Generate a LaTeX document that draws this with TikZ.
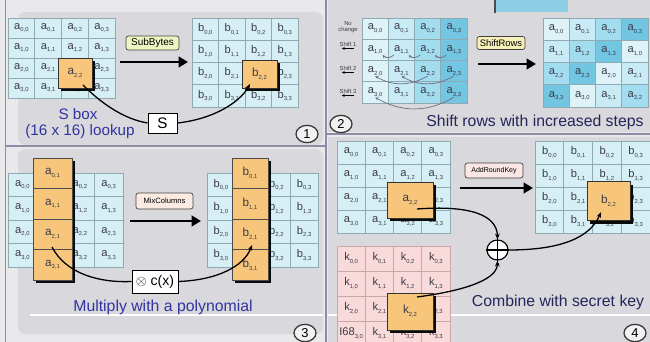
\documentclass[tikz,border=0pt]{standalone}
\usepackage{fontspec}
\setmainfont{Liberation Sans}
\usetikzlibrary{arrows.meta,shapes.geometric,shadows}

\definecolor{canvas}{HTML}{E9E9EC}
\definecolor{panel}{HTML}{D9D9DD}
\definecolor{divider}{HTML}{8C8CA6}
\definecolor{cellfill}{HTML}{D6EFF5}
\definecolor{cellline}{HTML}{8FAAB2}
\definecolor{celltxt}{HTML}{3A3A48}
\definecolor{hlorange}{HTML}{F7C67A}
\definecolor{sh0}{HTML}{DDF3F8}
\definecolor{sh1}{HTML}{C9EBF5}
\definecolor{sh2}{HTML}{A2DDEF}
\definecolor{sh3}{HTML}{72C6E2}
\definecolor{subfill}{HTML}{EEF5C2}
\definecolor{shiftfill}{HTML}{F7F0B8}
\definecolor{mixfill}{HTML}{FBEAE2}
\definecolor{keyfill}{HTML}{F8DADA}
\definecolor{keyline}{HTML}{C9A7A7}
\definecolor{addfill}{HTML}{FBE6E6}
\definecolor{titleblue}{HTML}{3333A0}
\definecolor{titlenavy}{HTML}{25255A}
\definecolor{numline}{HTML}{3A3A3A}
\definecolor{numfill}{HTML}{F2F2F2}
\definecolor{arcgray}{HTML}{6E6E80}
\definecolor{topblue}{HTML}{8FCFE6}

\newcommand{\cellsub}[1]{\raisebox{-0.45ex}{\fontsize{5}{5}\selectfont#1}}
\newcommand{\keyletter}{\ifnum\ri\ci=30 I68\else k\fi}
% 4x4 state grid: name, x0, y0, cell width, cell height, letter, style,
% column left without text (9 = none), cell left without text (99 = none)
\newcommand{\stategrid}[9]{%
  \foreach \ri in {0,...,3} {
    \foreach \ci in {0,...,3} {
      \draw[#7] ({#2+\ci*#4},{#3+\ri*#5}) rectangle ++(#4,#5);
      \pgfmathtruncatemacro{\cellid}{\ri*10+\ci}
      \ifnum\ci=#8\relax\else\ifnum\cellid=#9\relax\else
        \node[celltext] (#1\ri\ci) at ({#2+(\ci+0.5)*#4},{#3+(\ri+0.5)*#5}) {#6\cellsub{\ri,\ci}};
      \fi\fi
    }
  }
}

\tikzset{
  cellbox/.style={draw=cellline,fill=cellfill,line width=0.5pt},
  keybox/.style={draw=keyline,fill=keyfill,line width=0.5pt},
  celltext/.style={font=\fontsize{9.5}{10}\selectfont,text=celltxt,inner sep=0pt},
  hlbox/.style={draw=black!80,fill=hlorange,line width=0.6pt,inner sep=0pt,
    font=\fontsize{10}{11}\selectfont,text=celltxt,
    drop shadow={shadow xshift=2.6pt,shadow yshift=-2.6pt,fill=black,opacity=.95}},
  colcell/.style={draw=black!70,line width=0.5pt,inner sep=0pt,minimum height=0.915cm,
    font=\fontsize{10}{11}\selectfont,text=celltxt},
  opbox/.style={draw=black!75,rounded corners=2pt,line width=0.6pt,inner sep=1pt},
  stagearrow/.style={line width=2pt,-{Triangle[length=8pt,width=9pt]}},
  curvelink/.style={line width=1.1pt},
  curvearrow/.style={line width=1.1pt,-{Stealth[length=5pt,width=4pt]}},
  shiftlink/.style={draw=arcgray,line width=0.6pt,-{Stealth[length=3pt,width=2.5pt]}},
  shiftlbl/.style={font=\fontsize{5}{5.5}\selectfont,text=celltxt,inner sep=0pt,align=center},
  shiftmark/.style={line width=0.9pt,-{Stealth[length=2.5pt,width=2.5pt]}},
  stepnum/.style={ellipse,draw=numline,line width=1.1pt,fill=numfill,minimum width=0.66cm,
    minimum height=0.52cm,inner sep=0pt,font=\fontsize{11}{12}\selectfont},
  steptitle/.style={font=\fontsize{13.5}{15}\selectfont,inner sep=0pt},
}

\begin{document}
\begin{tikzpicture}[x=0.03cm,y=-0.03cm]
\clip (0,0) rectangle (650,342);
% background panels
\fill[canvas] (0,0) rectangle (650,342);
\fill[panel,rounded corners=6pt] (18,12) rectangle (323,145);
\fill[panel] (328,-5) rectangle (655,132);
\fill[panel,rounded corners=6pt] (18,149) rectangle (323,334);
\fill[panel] (328,137) rectangle (655,347);
\draw[white,line width=1pt] (30,315) -- (323,315);
\draw[white,line width=1pt] (328,315) -- (650,315);
\draw[divider,line width=0.8pt] (5,0) -- (5,342);
\draw[divider,line width=1pt] (5,146) -- (326,146);
\draw[divider,line width=1.2pt] (326,0) -- (326,342);
\draw[divider,line width=1pt] (326,134) -- (650,134);
\fill[topblue] (495,0) rectangle (568,12);
\draw[black!70,line width=1pt] (495,0) -- (495,13);

% 1: SubBytes
\stategrid{qa}{8}{18}{26.75}{20}{a}{cellbox}{9}{22}
\stategrid{qb}{192}{18}{26.5}{22.25}{b}{cellbox}{9}{22}
\node[hlbox,minimum width=1.02cm,minimum height=0.9cm] (hlA) at (75,73) {a\cellsub{2,2}};
\node[hlbox,minimum width=1.05cm,minimum height=0.84cm] (hlB) at (259.5,74) {b\cellsub{2,2}};
\node[opbox,fill=subfill,minimum width=1.59cm,minimum height=0.42cm,font=\fontsize{8.5}{9}\selectfont] (subbytes) at (152.5,43) {SubBytes};
\coordinate (subin) at (120,62);
\coordinate (subout) at (188,62);
\draw[stagearrow] (subin) -- (subout);
\node[draw=black,fill=white,line width=0.8pt,minimum width=0.87cm,minimum height=0.6cm,inner sep=0pt,font=\fontsize{13}{14}\selectfont] (sbox) at (162.5,123) {S};
\coordinate (sfrom) at (83,85);
\coordinate (sto) at (250,84);
\draw[curvelink] (sfrom) .. controls (102,104) and (124,119) .. (sbox.west);
\draw[curvearrow] (sbox.east) .. controls (214,119) and (240,102) .. (sto);
\node[steptitle,text=titleblue,font=\fontsize{13}{14}\selectfont] (sboxtxt) at (78,114) {S box};
\node[steptitle,text=titleblue,font=\fontsize{13}{14}\selectfont] (lookup) at (80,131.5) {(16 x 16) lookup};
\node[stepnum] (num1) at (307,134) {1};

% 2: ShiftRows
\node[shiftlbl] (nochange) at (348,27) {No\\change};
\node[shiftlbl] (shift1) at (348,44) {Shift 1};
\node[shiftlbl] (shift2) at (348,68) {Shift 2};
\node[shiftlbl] (shift3) at (348,91) {Shift 3};
\foreach \ri in {1,2,3}
  \draw[shiftmark] ([xshift=-2pt,yshift=-1.8pt]shift\ri.south east) -- ([xshift=2pt,yshift=-1.8pt]shift\ri.south west);
\foreach \ri in {0,...,3} {
  \foreach \ci in {0,...,3} {
    \draw[draw=cellline,fill=sh\ci,line width=0.5pt] ({362+\ci*26.25},{18+\ri*21.25}) rectangle ++(26.25,21.25);
    \node[celltext] (qs\ri\ci) at ({362+(\ci+0.5)*26.25},{18+(\ri+0.5)*21.25}) {a\cellsub{\ri,\ci}};
  }
}
\draw[shiftlink] (qs11.south west) to[bend left=50] (qs10.south east);
\draw[shiftlink] (qs12.south west) to[bend left=50] (qs11.south east);
\draw[shiftlink] (qs13.south west) to[bend left=50] (qs12.south east);
\draw[shiftlink] (qs22.south) to[bend left=30] (qs20.south);
\draw[shiftlink] (qs23.south) to[bend left=30] (qs21.south);
\draw[shiftlink] (qs33.south) to[bend left=30] (qs30.south);
\foreach \ri in {0,...,3} {
  \foreach \ci in {0,...,3} {
    \pgfmathtruncatemacro{\kk}{mod(\ci+\ri,4)}
    \draw[draw=cellline,fill=sh\kk,line width=0.5pt] ({543+\ci*26.25},{18+\ri*22.25}) rectangle ++(26.25,22.25);
    \node[celltext] (qr\ri\ci) at ({543+(\ci+0.5)*26.25},{18+(\ri+0.5)*22.25}) {a\cellsub{\ri,\kk}};
  }
}
\node[opbox,fill=shiftfill,minimum width=1.44cm,minimum height=0.39cm,font=\fontsize{8}{9}\selectfont] (shiftrows) at (501,43) {ShiftRows};
\coordinate (shin) at (478,64);
\coordinate (shout) at (536,64);
\draw[stagearrow] (shin) -- (shout);
\node[steptitle,text=titlenavy] (shifttxt) at (535,122) {Shift rows with increased steps};
\node[stepnum] (num2) at (341,124) {2};

% 3: MixColumns
\stategrid{ma}{8}{173}{28.75}{23.5}{a}{cellbox}{1}{99}
\stategrid{mb}{207}{173}{27.75}{23.5}{b}{cellbox}{1}{99}
\node[hlbox,minimum width=1.17cm,minimum height=3.66cm] (colA) at (52.5,219) {};
\node[hlbox,minimum width=1.08cm,minimum height=3.66cm] (colB) at (250,219) {};
\foreach \ri in {0,...,3} {
  \node[colcell,minimum width=1.17cm] (ca\ri) at (52.5,{158+(\ri+0.5)*30.5}) {a\cellsub{\ri,1}};
  \node[colcell,minimum width=1.08cm] (cb\ri) at (250,{158+(\ri+0.5)*30.5}) {b\cellsub{\ri,1}};
}
\node[opbox,fill=mixfill,minimum width=1.71cm,minimum height=0.48cm,font=\fontsize{6.5}{7}\selectfont] (mixcol) at (164.5,201) {MixColumns};
\coordinate (mixin) at (130,221);
\coordinate (mixout) at (201,221);
\draw[stagearrow] (mixin) -- (mixout);
\node[draw=black,fill=white,line width=0.8pt,minimum width=1.38cm,minimum height=0.69cm,inner sep=0pt,font=\fontsize{12}{13}\selectfont] (cxbox) at (155,281.5) {$\otimes$ c(x)};
\coordinate (mfrom) at (52,247);
\coordinate (mto) at (252,245);
\draw[curvelink] (mfrom) .. controls (66,274) and (100,283) .. (cxbox.west);
\draw[curvearrow] (cxbox.east) .. controls (218,280) and (244,266) .. (mto);
\node[steptitle,text=titleblue] (multxt) at (163,307) {Multiply with a polynomial};
\node[stepnum] (num3) at (305,333) {3};

% 4: AddRoundKey
\stategrid{ka}{337}{141}{28.25}{23}{a}{cellbox}{9}{22}
\stategrid{kk}{337}{246}{28.25}{25}{\keyletter}{keybox}{9}{22}
\stategrid{kb}{535}{141}{28.75}{23}{b}{cellbox}{9}{22}
\node[hlbox,minimum width=1.38cm,minimum height=1.08cm] (hlA4) at (410,200) {a\cellsub{2,2}};
\node[hlbox,minimum width=1.38cm,minimum height=1.11cm] (hlK4) at (410,311.5) {k\cellsub{2,2}};
\node[hlbox,minimum width=1.29cm,minimum height=1.17cm] (hlB4) at (608.5,201) {b\cellsub{2,2}};
\node[opbox,fill=addfill,minimum width=1.74cm,minimum height=0.45cm,font=\fontsize{6}{7}\selectfont] (addkey) at (494,170.5) {AddRoundKey};
\coordinate (addin) at (460,188);
\coordinate (addout) at (533,188);
\draw[stagearrow] (addin) -- (addout);
\node[ellipse,draw=black,line width=1pt,fill=white,minimum width=0.63cm,minimum height=0.6cm] (xor) at (497.5,250) {};
\draw[line width=1pt] (xor.north) -- (xor.south) (xor.west) -- (xor.east);
\coordinate (afrom) at (417,209);
\coordinate (kfrom) at (417,297);
\coordinate (bto) at (601,212);
\draw[curvearrow] (afrom) .. controls (470,205) and (497,215) .. (xor.north);
\draw[curvearrow] (kfrom) .. controls (455,292) and (497,282) .. (xor.south);
\draw[curvearrow] (xor.east) .. controls (560,250) and (590,238) .. (bto);
\node[steptitle,text=titlenavy] (combtxt) at (558,302) {Combine with secret key};
\node[stepnum] (num4) at (635,333) {4};
\end{tikzpicture}
\end{document}
